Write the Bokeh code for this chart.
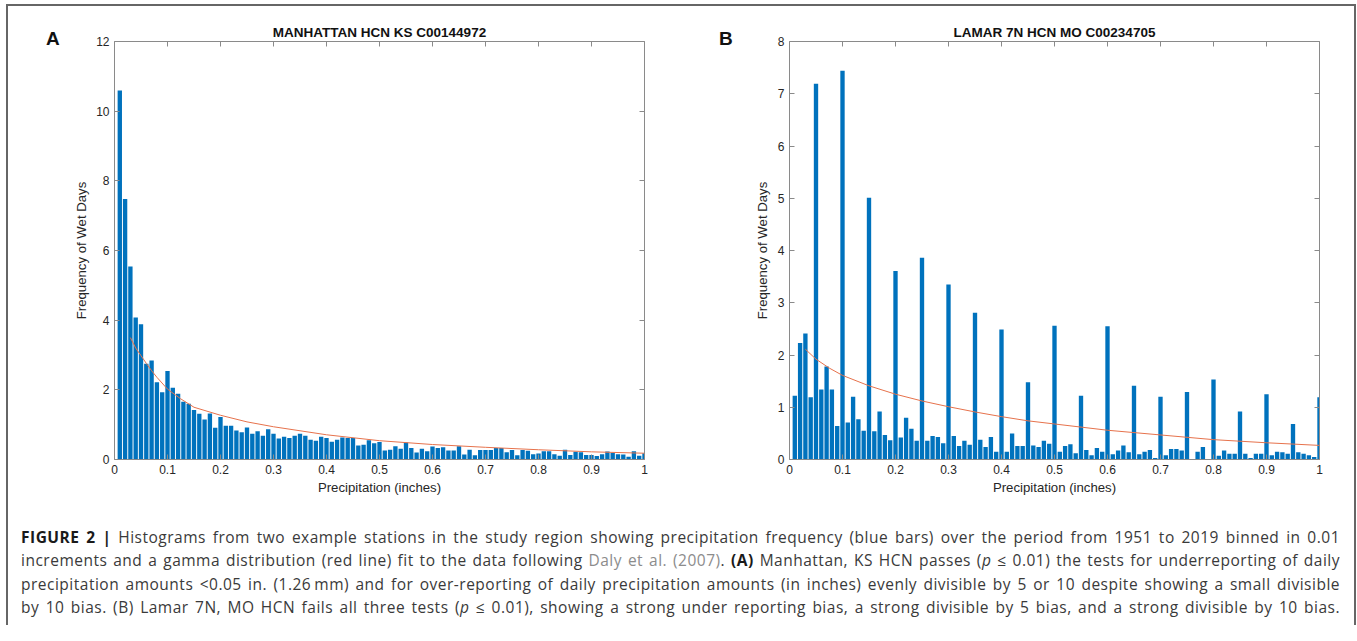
from bokeh.plotting import figure
from bokeh.models import LinearAxis, FixedTicker, Div, CustomLabelingPolicy
from bokeh.layouts import row, column
from bokeh.embed import file_html
from bokeh.resources import INLINE

# ---------------- data ----------------
BIN_CENTERS = [i / 100 for i in range(1, 101)]  # 0.01-inch bins

MANHATTAN_FREQ = [
    10.59, 7.48, 5.54, 4.08, 3.88, 2.75, 2.84, 2.22, 1.93, 2.54,
    2.06, 1.89, 1.66, 1.60, 1.42, 1.31, 1.15, 1.32, 0.91, 1.22,
    0.97, 0.97, 0.83, 0.78, 0.92, 0.74, 0.81, 0.68, 0.87, 0.74,
    0.60, 0.65, 0.62, 0.68, 0.74, 0.68, 0.57, 0.54, 0.65, 0.62,
    0.51, 0.57, 0.63, 0.62, 0.62, 0.40, 0.42, 0.55, 0.47, 0.50,
    0.26, 0.28, 0.38, 0.31, 0.49, 0.33, 0.20, 0.31, 0.24, 0.37,
    0.33, 0.35, 0.26, 0.26, 0.38, 0.14, 0.28, 0.12, 0.27, 0.27,
    0.27, 0.33, 0.33, 0.21, 0.27, 0.12, 0.27, 0.25, 0.15, 0.17,
    0.24, 0.24, 0.15, 0.11, 0.28, 0.13, 0.22, 0.21, 0.13, 0.13,
    0.10, 0.15, 0.23, 0.19, 0.15, 0.14, 0.08, 0.24, 0.11, 0.18,
]

LAMAR_FREQ = [
    1.22, 2.23, 2.41, 1.19, 7.19, 1.34, 1.78, 1.34, 0.64, 7.44,
    0.71, 1.20, 0.77, 0.55, 5.01, 0.54, 0.92, 0.47, 0.37, 3.61,
    0.42, 0.80, 0.59, 0.36, 3.86, 0.36, 0.45, 0.43, 0.31, 3.35,
    0.45, 0.26, 0.36, 0.28, 2.81, 0.38, 0.24, 0.43, 0.15, 2.49,
    0.15, 0.50, 0.26, 0.26, 1.48, 0.27, 0.24, 0.36, 0.30, 2.56,
    0.15, 0.26, 0.29, 0.12, 1.22, 0.18, 0.08, 0.22, 0.15, 2.55,
    0.10, 0.17, 0.27, 0.14, 1.41, 0.10, 0.15, 0.18, 0.03, 1.20,
    0.08, 0.20, 0.20, 0.17, 1.29, 0.01, 0.15, 0.24, 0.01, 1.53,
    0.07, 0.17, 0.11, 0.11, 0.92, 0.11, 0.03, 0.11, 0.11, 1.25,
    0.08, 0.15, 0.14, 0.11, 0.68, 0.14, 0.11, 0.08, 0.05, 1.19,
]

# gamma fit curves
MANHATTAN_FIT_X = [0.03, 0.04, 0.05, 0.06, 0.07, 0.08, 0.10, 0.125, 0.15, 0.20,
                   0.25, 0.30, 0.40, 0.50, 0.60, 0.70, 0.80, 0.90, 1.00]
MANHATTAN_FIT_Y = [3.50, 3.20, 2.98, 2.76, 2.55, 2.36, 2.02, 1.74, 1.50, 1.27,
                   1.08, 0.94, 0.71, 0.54, 0.43, 0.35, 0.28, 0.22, 0.18]

LAMAR_FIT_X = [0.03, 0.05, 0.075, 0.10, 0.15, 0.20, 0.25, 0.30, 0.35, 0.40,
               0.45, 0.50, 0.55, 0.60, 0.70, 0.80, 0.90, 1.00]
LAMAR_FIT_Y = [2.11, 1.92, 1.75, 1.61, 1.41, 1.25, 1.12, 1.01, 0.91, 0.82,
               0.74, 0.68, 0.62, 0.56, 0.47, 0.38, 0.32, 0.27]

X_TICKS = [0, 0.1, 0.2, 0.3, 0.4, 0.5, 0.6, 0.7, 0.8, 0.9, 1]
X_TICK_LABELS = ["0", "0.1", "0.2", "0.3", "0.4", "0.5", "0.6", "0.7", "0.8", "0.9", "1"]
Y_TICKS_A = [0, 2, 4, 6, 8, 10, 12]
Y_TICKS_B = [0, 1, 2, 3, 4, 5, 6, 7, 8]

TITLE_A = "MANHATTAN HCN KS C00144972"
TITLE_B = "LAMAR 7N HCN MO C00234705"

BAR_COLOR = "#0072BD"
FIT_COLOR = "#E6724C"
AXIS_COLOR = "#8a8a8a"
TEXT_COLOR = "#262626"
FONT = "Liberation Sans"


def make_panel(title, freq, fit_x, fit_y, y_max, y_ticks, width,
               border_left, border_right, label_standoff):
    p = figure(width=width, height=499, x_range=(0, 1), y_range=(0, y_max),
               output_backend="svg", toolbar_location=None,
               min_border_left=border_left, min_border_right=border_right,
               min_border_top=35, min_border_bottom=46,
               background_fill_color="white", border_fill_color="white")
    p.outline_line_color = None
    p.xgrid.visible = False
    p.ygrid.visible = False

    p.title.text = title
    p.title.align = "center"
    p.title.text_font = FONT
    p.title.text_font_size = "13.5px"
    p.title.text_font_style = "bold"
    p.title.text_color = "#111111"
    p.title.standoff = 3

    p.vbar(x=BIN_CENTERS, top=freq, width=0.0082, fill_color=BAR_COLOR,
           line_color=None)
    p.line(fit_x, fit_y, line_color=FIT_COLOR, line_width=1)

    overrides = {t: s for t, s in zip(X_TICKS, X_TICK_LABELS)}

    top = LinearAxis()
    right = LinearAxis()
    p.add_layout(top, "above")
    p.add_layout(right, "right")

    for ax in p.xaxis:
        ax.ticker = FixedTicker(ticks=X_TICKS)
        ax.major_label_overrides = overrides
    for ax in p.yaxis:
        ax.ticker = FixedTicker(ticks=y_ticks)

    for ax in [p.below[0], p.left[0], top, right]:
        ax.axis_line_color = AXIS_COLOR
        ax.axis_line_width = 1
        ax.major_tick_line_color = AXIS_COLOR
        ax.major_tick_in = 5
        ax.major_tick_out = 0
        ax.minor_tick_line_color = None
        ax.major_label_text_font = FONT
        ax.major_label_text_font_size = "12px"
        ax.major_label_text_color = TEXT_COLOR
        ax.major_label_standoff = 5
        ax.axis_label_text_font = FONT
        ax.axis_label_text_font_size = "13.2px"
        ax.axis_label_text_font_style = "normal"
        ax.axis_label_text_color = TEXT_COLOR
    # mirrored frame axes: ticks only, no labels
    for ax in [top, right]:
        ax.major_label_policy = CustomLabelingPolicy(code="return []")
        ax.major_label_text_font_size = "0px"
        ax.major_label_standoff = 0

    p.below[0].axis_label = "Precipitation (inches)"
    p.below[0].axis_label_standoff = 3
    p.left[0].axis_label = "Frequency of Wet Days"
    p.left[0].axis_label_standoff = label_standoff
    return p


def letter_div(letter, pad_left):
    return Div(
        text=(f'<div style="font-family: \'Liberation Sans\', Arial, sans-serif; '
              f'font-weight: bold; font-size: 19px; line-height: 19px; color: #111111; '
              f'padding-left: {pad_left}px; padding-top: 23px;">{letter}</div>'),
        width=60, height=499, margin=0)


pA = make_panel(TITLE_A, MANHATTAN_FREQ, MANHATTAN_FIT_X, MANHATTAN_FIT_Y,
                12, Y_TICKS_A, 612, 46, 36, 4)
pB = make_panel(TITLE_B, LAMAR_FREQ, LAMAR_FIT_X, LAMAR_FIT_Y,
                8, Y_TICKS_B, 614, 49, 35, 5)

line_style = "text-align: justify; text-align-last: justify; white-space: nowrap;"
caption_html = (
    '<div style="box-sizing: border-box; font-family: \'Open Sans\', Roboto, sans-serif; font-size: 15.5px; '
    'letter-spacing: 0.5px; color: #3a3a3a; line-height: 23.3px; width: 1332px; '
    'padding-left: 13px; padding-top: 21px;">'
    f'<div style="{line_style}"><b style="color:#1a1a1a">FIGURE 2 |</b> Histograms from two example stations '
    'in the study region showing precipitation frequency (blue bars) over the period from 1951 '
    'to 2019 binned in 0.01</div>'
    f'<div style="{line_style}">increments and a gamma distribution (red line) fit to the data following '
    '<span style="color:#8c8c8c">Daly et al. (2007)</span>. <b style="color:#1a1a1a">(A)</b> Manhattan, KS HCN passes '
    '(<i>p</i> &le; 0.01) the tests for underreporting of daily</div>'
    f'<div style="{line_style}">precipitation amounts &lt;0.05 in. (1.26&#8201;mm) and for over-reporting of daily '
    'precipitation amounts (in inches) evenly divisible by 5 or 10 despite showing a small divisible</div>'
    f'<div style="{line_style}">by 10 bias. (B) Lamar 7N, MO HCN fails all three tests (<i>p</i> &le; 0.01), '
    'showing a strong under reporting bias, a strong divisible by 5 bias, and a strong divisible by 10 bias.</div>'
    '</div>'
)
caption = Div(text=caption_html, width=1346, height=120, margin=0)

layout = column(row(letter_div("A", 38), pA, letter_div("B", 39), pB), caption,
                styles={"margin-left": "6px", "margin-top": "4px",
                        "border-top": "2px solid #666666",
                        "border-left": "2px solid #666666",
                        "border-right": "2px solid #666666"})

open("out.html", "w").write(file_html(layout, INLINE))
